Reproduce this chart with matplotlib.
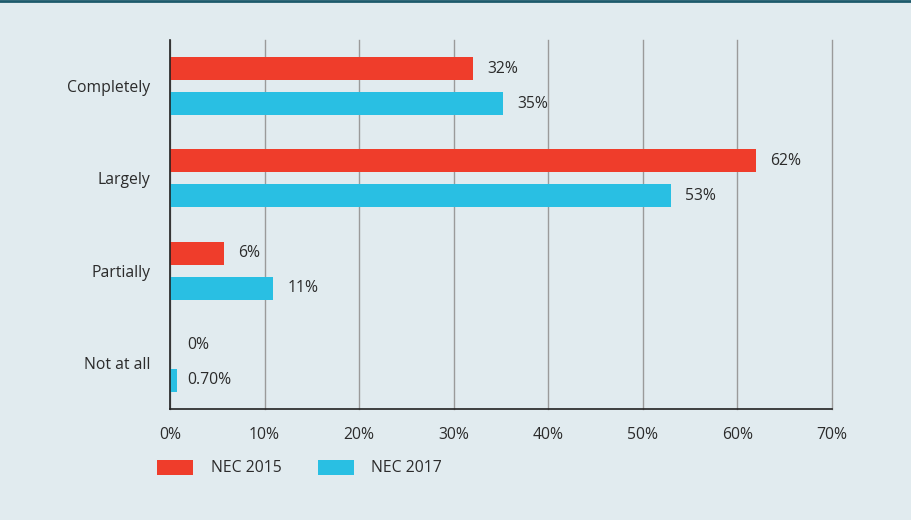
import matplotlib.pyplot as plt
import numpy as np

# Data
categories = ["Completely", "Largely", "Partially", "Not at all"]
nec_2015 = [32, 62, 5.7, 0]
nec_2017 = [35.2, 53, 10.9, 0.7]
labels_2015 = ["32%", "62%", "6%", "0%"]
labels_2017 = ["35%", "53%", "11%", "0.70%"]
series_names = ["NEC 2015", "NEC 2017"]
xticks = [0, 10, 20, 30, 40, 50, 60, 70]

red = "#ef3d2b"
blue = "#29bfe3"
bg = "#e1ebef"
txt = "#2b2b2b"
fs = 11.3

plt.rcParams['font.family'] = ['Open Sans', 'DejaVu Sans']

fig = plt.figure(figsize=(9.12, 5.2), dpi=100, facecolor=bg)
ax = fig.add_axes([0.1864, 0.2135, 0.7259, 0.7096])
ax.set_facecolor(bg)

y = np.arange(len(categories))
h = 0.25
off = 0.19
b1 = ax.barh(y - off, nec_2015, height=h, color=red, label=series_names[0])
b2 = ax.barh(y + off, nec_2017, height=h, color=blue, label=series_names[1])

for val, lab, yy in zip(nec_2015, labels_2015, y - off):
    ax.text(val + 1.5 if val > 0 else 1.8, yy, lab, va='center', ha='left', fontsize=fs, color=txt)
for val, lab, yy in zip(nec_2017, labels_2017, y + off):
    ax.text(val + 1.5 if val > 1 else 1.8, yy, lab, va='center', ha='left', fontsize=fs, color=txt)

ax.set_xlim(0, 70)
ax.set_ylim(3.5, -0.5)
ax.set_xticks(xticks)
ax.set_xticklabels([f"{t}%" for t in xticks], fontsize=fs, color=txt)
ax.set_yticks(y)
ax.set_yticklabels(categories, fontsize=fs, color=txt)
ax.tick_params(axis='x', length=0, pad=13)
ax.tick_params(axis='y', length=0, pad=14)

ax.grid(axis='x', color='#9a9a9a', linewidth=1)
for gl in ax.get_xgridlines():
    gl.set_clip_on(False)
ax.set_axisbelow(True)
for s in ['top', 'right']:
    ax.spines[s].set_visible(False)
ax.spines['left'].set_color('#222222')
ax.spines['bottom'].set_color('#222222')
ax.spines['left'].set_linewidth(1.2)
ax.spines['bottom'].set_linewidth(1.2)

fig.legend(handles=[b1, b2], loc='center left', bbox_to_anchor=(0.157, 0.1), ncol=2,
           frameon=False, fontsize=fs, handlelength=2.3, handleheight=1.1,
           handletextpad=1.1, columnspacing=2.3, labelcolor=txt)

# top border line
fig.add_artist(plt.Line2D([0, 1], [0.998, 0.998], color='#1d5a6b', linewidth=2, transform=fig.transFigure))

plt.savefig('out.png', dpi=100, facecolor=bg)
